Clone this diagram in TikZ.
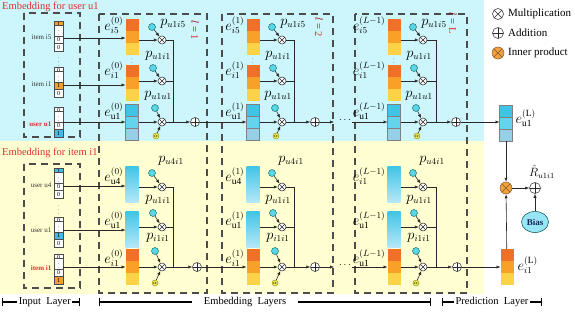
\documentclass[tikz,border=0pt]{standalone}
\usepackage{fontspec}
\setmainfont{Liberation Serif}
\usetikzlibrary{arrows.meta,shapes.geometric,calc}
\definecolor{bgc}{RGB}{204,246,251}
\definecolor{bgy}{RGB}{255,255,210}
\definecolor{ored}{RGB}{240,112,40}
\definecolor{omid}{RGB}{248,160,40}
\definecolor{oyel}{RGB}{252,210,70}
\definecolor{cyd}{RGB}{64,196,230}
\definecolor{cym}{RGB}{100,212,238}
\definecolor{cyl}{RGB}{150,208,232}
\definecolor{cyvl}{RGB}{180,232,248}
\definecolor{redt}{RGB}{225,45,45}
\definecolor{parc}{RGB}{90,214,230}
\definecolor{ylc}{RGB}{240,236,90}
\definecolor{ipc}{RGB}{240,160,60}
\definecolor{lnc}{RGB}{40,40,40}
\definecolor{biasc}{RGB}{150,230,245}
\definecolor{biast}{RGB}{20,40,90}
\definecolor{incell}{RGB}{240,160,50}
\definecolor{cycell}{RGB}{70,185,230}
\tikzset{
 ln/.style={draw=lnc, line width=0.6pt},
 arr/.style={ln, -{Latex[length=4pt,width=3.2pt]}},
 dbox/.style={draw=black!70, line width=1.3pt, dash pattern=on 7pt off 5pt},
 blk/.style={rectangle, minimum width=13pt, minimum height=36pt, inner sep=0pt, outer sep=0pt},
 icell/.style={rectangle, draw=black!70, line width=0.4pt, minimum width=9pt, minimum height=7.5pt, inner sep=0pt, font=\fontsize{6}{6}\selectfont},
 crossed/.style={path picture={\draw[#1, line width=0.5pt] (path picture bounding box.north west) -- (path picture bounding box.south east) (path picture bounding box.north east) -- (path picture bounding box.south west);}},
 mul/.style={circle, draw=lnc, fill=white, line width=0.5pt, minimum size=8pt, inner sep=0pt, crossed=lnc},
 addn/.style={circle, draw=lnc, fill=white, line width=0.5pt, minimum size=9pt, inner sep=0pt,
   path picture={\draw[lnc, line width=0.5pt] (path picture bounding box.north) -- (path picture bounding box.south) (path picture bounding box.west) -- (path picture bounding box.east);}},
 ipn/.style={circle, draw=brown!70!black, fill=ipc, line width=0.5pt, minimum size=12pt, inner sep=0pt, crossed=brown!70!black},
 par/.style={circle, draw=teal!70!black, fill=parc, line width=0.4pt, minimum size=7pt, inner sep=0pt},
 ylw/.style={circle, draw=olive, fill=ylc, line width=0.4pt, minimum size=6pt, inner sep=0pt, font=\fontsize{4}{4}\selectfont},
 elab/.style={anchor=east, inner sep=0.5pt, font=\fontsize{13.5}{13.5}\selectfont},
 plab/.style={inner sep=0.5pt, font=\fontsize{13.5}{13.5}\selectfont},
 ilab/.style={anchor=east, font=\fontsize{7}{8}\selectfont, inner sep=0.5pt, text=black!80},
 vdt/.style={inner sep=0pt, font=\fontsize{5}{5}\selectfont},
 llab/.style={rotate=-90, inner sep=0.5pt, font=\fontsize{10.5}{10.5}\selectfont},
 brk/.style={line width=1.2pt, {Bar[width=8pt]}-{Bar[width=8pt]}},
 btxt/.style={fill=white, inner sep=1.5pt, font=\fontsize{10.5}{12}\selectfont},
}
\newcommand\ivec[4]{%
 \foreach \v/\f [count=\k] in {#4} {\node[icell, fill=\f] (#1\k) at (#2, #3+\k*7.5-3.75) {\v};}}
\newcommand\oblk[3]{%
 \node[blk, anchor=north] (#1) at (#2,#3) {};
 \fill[ored] (#1.north west) rectangle ($(#1.north east)!1/3!(#1.south east)$);
 \fill[omid] ($(#1.north west)!1/3!(#1.south west)$) rectangle ($(#1.north east)!2/3!(#1.south east)$);
 \fill[oyel] ($(#1.north west)!2/3!(#1.south west)$) rectangle (#1.south east);}
\newcommand\cblk[3]{%
 \node[blk, anchor=north] (#1) at (#2,#3) {};
 \fill[cyd] (#1.north west) rectangle ($(#1.north east)!1/3!(#1.south east)$);
 \fill[cym] ($(#1.north west)!1/3!(#1.south west)$) rectangle ($(#1.north east)!2/3!(#1.south east)$);
 \fill[cyl] ($(#1.north west)!2/3!(#1.south west)$) rectangle (#1.south east);
 \draw[gray, line width=0.4pt] (#1.north west) rectangle (#1.south east)
   ($(#1.north west)!1/3!(#1.south west)$) -- ($(#1.north east)!1/3!(#1.south east)$)
   ($(#1.north west)!2/3!(#1.south west)$) -- ($(#1.north east)!2/3!(#1.south east)$);}
\newcommand\gblk[3]{\node[blk, anchor=north, top color=cyd, bottom color=cyvl] (#1) at (#2,#3) {};}
% top section: id, block x, mult x, collector x, plus x, superscript
\newcommand\topsec[6]{%
 \oblk{#1A}{#2}{19}
 \node[vdt] (#1d) at (#2,60) {$\vdots$};
 \oblk{#1B}{#2}{65}
 \cblk{#1C}{#2}{104}
 \node[elab] (#1eA) at (#2-8,25) {$e^{(#6)}_{i5}$};
 \node[elab] (#1eB) at (#2-8,70) {$e^{(#6)}_{i1}$};
 \node[elab] (#1eC) at (#2-8,111) {$e^{(#6)}_{\mathrm{u1}}$};
 \node[mul] (#1mA) at (#3,40) {};
 \node[mul] (#1mB) at (#3,81) {};
 \node[mul] (#1mC) at (#3,122) {};
 \node[par] (#1qA) at (#3-10,27) {};
 \node[par] (#1qB) at (#3-9,68) {};
 \node[par] (#1qC) at (#3-7,108) {};
 \node[ylw] (#1y) at (#3-6,136) {$\alpha$};
 \node[plab] (#1pA) at (#3+11,24) {$p_{u1i5}$};
 \node[plab] (#1pB) at (#3-4,56) {$p_{u1i1}$};
 \node[plab] (#1pC) at (#3-4,96) {$p_{u1u1}$};
 \coordinate (#1kA) at (#4,40);
 \coordinate (#1kC) at (#4,122);
 \node[addn] (#1p) at (#5,122) {};
 \draw[arr] (#1mA -| #1A.east) -- (#1mA);
 \draw[arr] (#1mB -| #1B.east) -- (#1mB);
 \draw[arr] (#1mC -| #1C.east) -- (#1mC);
 \draw[arr] (#1qA) -- (#1mA);
 \draw[arr] (#1qB) -- (#1mB);
 \draw[arr] (#1qC) -- (#1mC);
 \draw[arr] (#1y) -- (#1mC);
 \draw[ln] (#1mA) -- (#1kA) -- (#1kC);
 \draw[ln] (#1mB) -- (#1mB -| #1kA);
 \draw[ln] (#1mC) -- (#1kC);
 \draw[arr] (#1kC) -- (#1p);}
% bottom section: id, block x, mult x, collector x, plus x, labels A B C
\newcommand\botsec[8]{%
 \gblk{#1A}{#2}{166}
 \node[vdt, text=brown] (#1d) at (#2,206) {$\vdots$};
 \gblk{#1B}{#2}{211}
 \oblk{#1C}{#2}{249}
 \node[elab] (#1eA) at (#2-8,176) {#6};
 \node[elab] (#1eB) at (#2-8,220) {#7};
 \node[elab] (#1eC) at (#2-8,258) {#8};
 \node[mul] (#1mA) at (#3,187) {};
 \node[mul] (#1mB) at (#3,227) {};
 \node[mul] (#1mC) at (#3,267) {};
 \node[par] (#1qA) at (#3-10,173) {};
 \node[par] (#1qB) at (#3-9,213) {};
 \node[par] (#1qC) at (#3-7,251) {};
 \node[ylw] (#1y) at (#3-7,283) {$\alpha$};
 \node[plab] (#1pA) at (#3+9,161) {$p_{u4i1}$};
 \node[plab] (#1pB) at (#3-4,200) {$p_{u1i1}$};
 \node[plab] (#1pC) at (#3-4,238) {$p_{i1i1}$};
 \coordinate (#1kA) at (#4,187);
 \coordinate (#1kC) at (#4,267);
 \node[addn] (#1p) at (#5,267) {};
 \draw[arr] (#1mA -| #1A.east) -- (#1mA);
 \draw[arr] (#1mB -| #1B.east) -- (#1mB);
 \draw[arr] (#1mC -| #1C.east) -- (#1mC);
 \draw[arr] (#1qA) -- (#1mA);
 \draw[arr] (#1qB) -- (#1mB);
 \draw[arr] (#1qC) -- (#1mC);
 \draw[arr] (#1y) -- (#1mC);
 \draw[ln] (#1mA) -- (#1kA) -- (#1kC);
 \draw[ln] (#1mB) -- (#1mB -| #1kA);
 \draw[ln] (#1mC) -- (#1kC);
 \draw[arr] (#1kC) -- (#1p);}
\begin{document}
\begin{tikzpicture}[x=1pt,y=-1pt]
\useasboundingbox (0,0) rectangle (575,311);
% backgrounds
\fill[bgc] (0,0) rectangle (484,141);
\fill[bgy] (0,141) rectangle (484,294);
% section titles
\node[anchor=west, text=redt, inner sep=0pt, font=\fontsize{10.5}{12}\selectfont] (t1) at (2,7) {Embedding for user u1};
\node[anchor=west, text=redt, inner sep=0pt, font=\fontsize{10.5}{12}\selectfont] (t2) at (2,153) {Embedding for item i1};
% dashed boxes
\draw[dbox] (24,13) rectangle (80,137);
\draw[dbox] (24,164) rectangle (80,288);
\draw[dbox] (99,14) rectangle (207,293);
\draw[dbox] (222,14) rectangle (333,293);
\draw[dbox] (355,14) rectangle (467,293);
% input one-hot vectors (top)
\ivec{vi5-}{58.5}{21}{1/incell,{\tiny$\vdots$}/white,0/white,0/white}
\node[vdt] (dots1) at (58.5,59) {$\vdots$};
\ivec{vi1-}{58.5}{67}{0/white,{\tiny$\vdots$}/white,1/incell,0/white}
\ivec{vu1-}{58.5}{107}{0/white,{\tiny$\vdots$}/white,0/white,1/cycell}
\node[ilab] (li5) at (52,37) {item i5};
\node[ilab] (li1) at (52,84) {item i1};
\node[ilab, text=redt, font=\fontsize{7}{8}\selectfont\bfseries] (lu1) at (52,124) {user u1};
% input one-hot vectors (bottom)
\ivec{wu4-}{58.5}{168}{1/cycell,{\tiny$\vdots$}/white,0/white,0/white}
\node[vdt] (dots2) at (58.5,207.5) {$\vdots$};
\ivec{wu1-}{58.5}{217}{0/white,{\tiny$\vdots$}/white,1/cycell,0/white}
\ivec{wi1-}{58.5}{254}{0/white,{\tiny$\vdots$}/white,0/white,1/incell}
\node[ilab] (mu4) at (52,185) {user u4};
\node[ilab] (mu1) at (52,230) {user u1};
\node[ilab, text=redt, font=\fontsize{7}{8}\selectfont\bfseries] (mi1) at (52,268) {item i1};
% embedding columns
\topsec{a}{132}{162}{173}{195}{0}
\topsec{b}{253}{282}{294}{315}{1}
\topsec{c}{394}{423}{436}{456}{L-1}
\botsec{d}{132}{162}{173}{197}{$e^{(0)}_{\mathrm{u4}}$}{$e^{(0)}_{\mathrm{u1}}$}{$e^{(0)}_{i1}$}
\botsec{e}{253}{282}{294}{315}{$e^{(1)}_{\mathrm{u4}}$}{$e^{(1)}_{\mathrm{u1}}$}{$e^{(1)}_{i1}$}
\botsec{f}{394}{423}{436}{457}{$e^{(L-1)}_{i1}$}{$e^{(L-1)}_{\mathrm{u1}}$}{$e^{(L-1)}_{\mathrm{u1}}$}
% layer labels
\node[llab] (l1) at (195,30) {\textcolor{red!60!black}{$l$ =} \textcolor{redt}{1}};
\node[llab] (l2) at (319,27) {\textcolor{red!60!black}{$l$ =} \textcolor{redt}{2}};
\node[llab] (l3) at (453,23) {\textcolor{red!60!black}{$l$ =} \textcolor{redt}{L}};
% input -> layer 0
\coordinate (ci5) at (63,38);
\coordinate (ci1) at (63,85);
\coordinate (cu1) at (63,122);
\coordinate (cu4b) at (63,186);
\coordinate (cu1b) at (63,230);
\coordinate (ci1b) at (63,267);
\draw[arr] (ci5) -- (ci5 -| aA.west);
\draw[arr] (ci1) -- (ci1 -| aB.west);
\draw[arr] (cu1) -- (cu1 -| aC.west);
\draw[arr] (cu4b) -- (cu4b -| dA.west);
\draw[arr] (cu1b) -- (cu1b -| dB.west);
\draw[arr] (ci1b) -- (ci1b -| dC.west);
% layer to layer
\draw[arr] (ap) -- (ap -| bC.west);
\draw[arr] (dp) -- (dp -| eC.west);
\coordinate (bo) at (334,122);
\coordinate (eo) at (334,267);
\draw[arr] (bp) -- (bo);
\draw[arr] (ep) -- (eo);
\node[inner sep=0pt] (bdots) at (345,120) {$\cdots$};
\node[inner sep=0pt] (edots) at (345,265) {$\cdots$};
\coordinate (ci) at (352,122);
\coordinate (fi) at (352,267);
\draw[arr] (ci) -- (ci -| cC.west);
\draw[arr] (fi) -- (fi -| fC.west);
% prediction layer
\cblk{uL}{506}{105}
\oblk{iL}{507}{249}
\node[anchor=west, inner sep=0.5pt, font=\fontsize{13.5}{13.5}\selectfont] (uLl) at (515,118) {$e^{(\mathrm{L})}_{\mathrm{u1}}$};
\node[anchor=west, inner sep=0.5pt, font=\fontsize{13.5}{13.5}\selectfont] (iLl) at (517,265) {$e^{(\mathrm{L})}_{i1}$};
\draw[arr] (cp) -- (cp -| uL.west);
\draw[arr] (fp) -- (fp -| iL.west);
\node[ipn] (ip) at (506,188) {};
\node[addn, minimum size=11pt] (fin) at (535,188) {};
\node[ellipse, draw=teal!60!black, fill=biasc, line width=0.5pt, minimum width=27pt, minimum height=21pt, inner sep=0pt, text=biast, font=\fontsize{9}{10}\selectfont\bfseries] (bias) at (535,222) {Bias};
\node[inner sep=0.5pt, font=\fontsize{12}{12}\selectfont] (rhat) at (542,172) {$\hat{R}_{u1i1}$};
\draw[arr] (uL) -- (ip);
\draw[arr] (iL) -- (ip);
\draw[arr] (ip) -- (fin);
\draw[arr] (bias) -- (fin);
% legend
\node[mul, minimum size=11pt] (g1) at (498,14) {};
\node[addn, minimum size=11pt] (g2) at (498,33) {};
\node[ipn] (g3) at (498,53) {};
\node[anchor=west, inner sep=0pt, font=\fontsize{11}{12}\selectfont] (g1t) at (508,14) {Multiplication};
\node[anchor=west, inner sep=0pt, font=\fontsize{11}{12}\selectfont] (g2t) at (508,33) {Addition};
\node[anchor=west, inner sep=0pt, font=\fontsize{11}{12}\selectfont] (g3t) at (508,53) {Inner product};
% bottom brackets
\draw[brk] (2,302) -- (80,302) node[btxt, pos=0.55] (b1) {Input\ \ Layer};
\draw[brk] (99,302) -- (431,302) node[btxt, pos=0.44, inner xsep=12pt] (b2) {Embedding\ \ Layers};
\draw[brk] (442,302) -- (542,302) node[btxt, pos=0.5] (b3) {Prediction\ \ Layer};
\end{tikzpicture}
\end{document}
